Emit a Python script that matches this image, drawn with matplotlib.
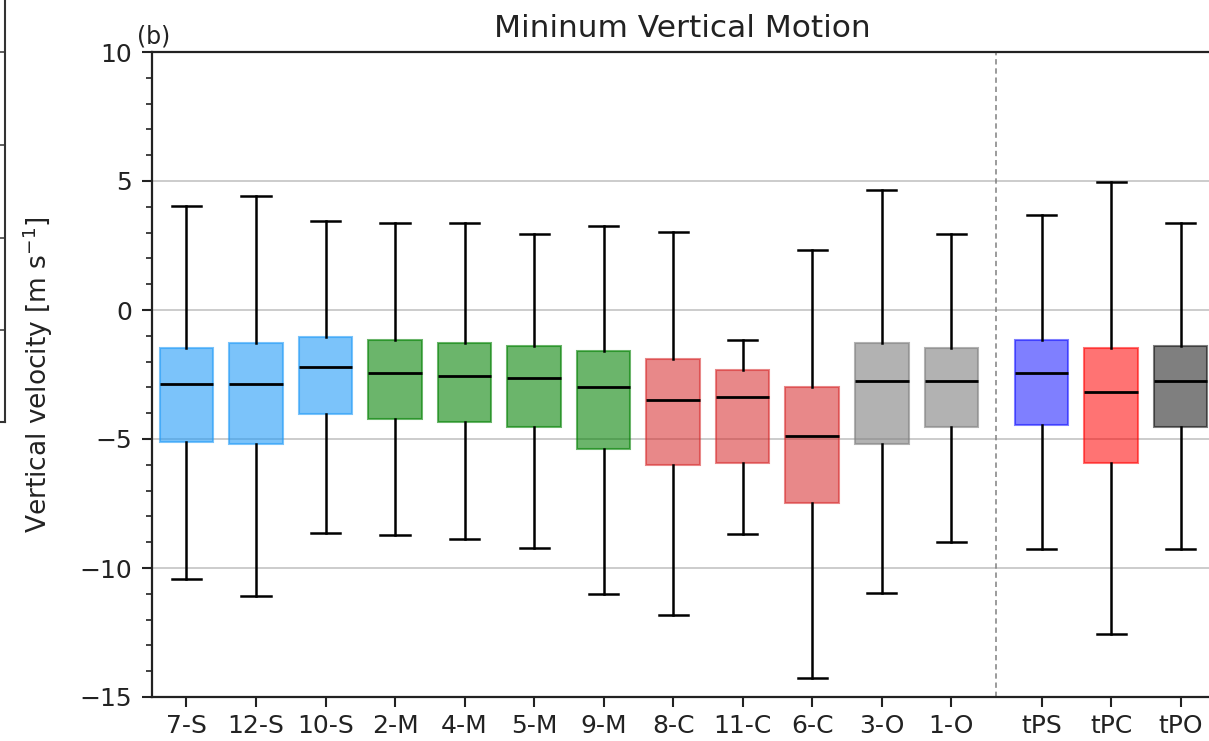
import matplotlib
matplotlib.use("Agg")
import matplotlib.pyplot as plt
from matplotlib.ticker import MultipleLocator

# ---- data ----
labels = ["7-S", "12-S", "10-S", "2-M", "4-M", "5-M", "9-M", "8-C", "11-C", "6-C", "3-O", "1-O",
          "tPS", "tPC", "tPO"]
positions = [1, 2, 3, 4, 5, 6, 7, 8, 9, 10, 11, 12, 13.3, 14.3, 15.3]
whis_hi = [4.03, 4.43, 3.46, 3.37, 3.37, 2.95, 3.26, 3.04, -1.18, 2.31, 4.64, 2.95, 3.68, 4.95, 3.36]
q3 = [-1.49, -1.27, -1.05, -1.18, -1.27, -1.38, -1.60, -1.91, -2.33, -2.97, -1.26, -1.49, -1.16, -1.49, -1.40]
medians = [-2.85, -2.85, -2.22, -2.43, -2.55, -2.65, -2.97, -3.49, -3.39, -4.87, -2.75, -2.75, -2.43, -3.17, -2.75]
q1 = [-5.10, -5.19, -4.03, -4.22, -4.35, -4.55, -5.40, -6.02, -5.94, -7.49, -5.19, -4.55, -4.47, -5.94, -4.55]
whis_lo = [-10.44, -11.09, -8.64, -8.72, -8.88, -9.22, -11.0, -11.82, -8.68, -14.26, -10.98, -8.98, -9.28, -12.56, -9.28]
face_colors = ["#249cf8"] * 3 + ["green"] * 4 + ["tab:red"] * 3 + ["gray"] * 2 + ["blue", "red", "black"]
face_alphas = [0.6] * 3 + [0.58] * 4 + [0.55] * 3 + [0.6] * 2 + [0.5, 0.55, 0.5]
separator_x = 12.65

W, H = 1209, 741
fig = plt.figure(figsize=(W / 100, H / 100), dpi=100)

# partial neighbouring panel (a) at the far left
ax0 = fig.add_axes([-0.5, (H - 422) / H, 0.5 + 5 / W, 0.6])
ax0.set_xlim(0, 1)
ax0.set_ylim(0, 1)
ax0.set_xticks([])
ax0.yaxis.tick_right()
ax0.set_yticks([0.207, 0.414, 0.623, 0.832])
ax0.set_yticklabels([])
ax0.tick_params(axis="y", direction="in", length=5, width=1.2, colors="#444444")
for s in ax0.spines.values():
    s.set_linewidth(1.5)
    s.set_color("#333333")

# main panel (b)
left_px, right_px, top_px, bot_px = 151.7, 1212.0, 52.0, 697.0
ax = fig.add_axes([left_px / W, (H - bot_px) / H, (right_px - left_px) / W, (bot_px - top_px) / H])

stats = []
for i in range(len(labels)):
    stats.append(dict(med=medians[i], q1=q1[i], q3=q3[i], whislo=whis_lo[i], whishi=whis_hi[i],
                      label=labels[i]))

bp = ax.bxp(stats, positions=positions, widths=0.77, patch_artist=True, showfliers=False,
            capwidths=0.42,
            medianprops=dict(color="black", linewidth=2.0),
            whiskerprops=dict(color="black", linewidth=1.8),
            capprops=dict(color="black", linewidth=1.8),
            boxprops=dict(linewidth=1.5))
for patch, c, a in zip(bp["boxes"], face_colors, face_alphas):
    patch.set_facecolor(c)
    patch.set_edgecolor(c)
    patch.set_alpha(a)

ax.axvline(separator_x, color="gray", linestyle=(0, (3.5, 2.5)), linewidth=1.1, zorder=1)

ax.set_xlim(0.5, 15.75)
ax.set_ylim(-15, 10)
ax.yaxis.set_major_locator(MultipleLocator(5))
ax.yaxis.set_minor_locator(MultipleLocator(1))
ax.grid(axis="y", which="major", color="#c8c8c8", linewidth=1.3, zorder=0)
ax.set_axisbelow(True)
ax.set_xticks(positions)
ax.set_xticklabels(labels)

ax.tick_params(axis="both", which="major", labelsize=18, length=7, width=1.5, pad=7,
               colors="#222222")
ax.tick_params(axis="x", which="major", pad=5)
ax.tick_params(axis="y", which="minor", length=4, width=1.2, colors="#222222")
for s in ax.spines.values():
    s.set_linewidth(1.6)
    s.set_color("#222222")

ax.set_ylabel(r"Vertical velocity [m s$^{-1}$]", fontsize=19, color="#222222", labelpad=18)
ax.set_title("Mininum Vertical Motion", fontsize=22.5, pad=11, color="#222222")
ax.text(-0.014, 1.006, "(b)", transform=ax.transAxes, fontsize=17, va="bottom", ha="left",
        color="#222222")

fig.savefig("out.png", dpi=100)
